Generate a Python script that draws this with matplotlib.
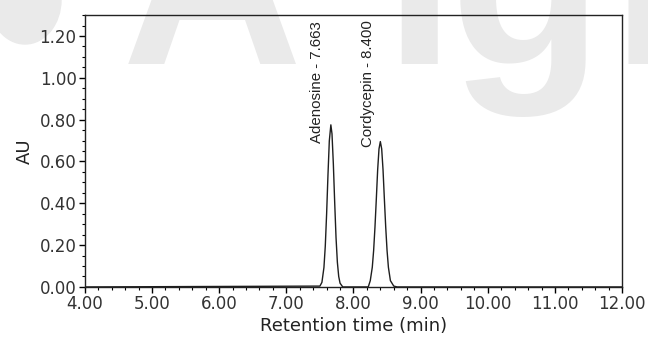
import matplotlib.pyplot as plt
from matplotlib.patches import Ellipse
from matplotlib.ticker import MultipleLocator, FormatStrFormatter

# chromatogram trace (time in min, absorbance in AU)
time = [4.00, 7.50, 7.53, 7.56, 7.58, 7.60, 7.62, 7.64, 7.663, 7.68, 7.70, 7.72,
        7.74, 7.76, 7.78, 7.80, 7.84, 8.22, 8.25, 8.28, 8.30, 8.32, 8.34, 8.36,
        8.38, 8.40, 8.42, 8.44, 8.46, 8.48, 8.50, 8.52, 8.55, 8.60, 8.65, 12.00]
au = [0.0, 0.004, 0.022, 0.093, 0.195, 0.35, 0.535, 0.698, 0.775, 0.732, 0.589, 0.405,
      0.236, 0.118, 0.050, 0.018, 0.0, 0.0, 0.03, 0.094, 0.174, 0.286, 0.42, 0.56,
      0.66, 0.695, 0.66, 0.56, 0.42, 0.286, 0.174, 0.094, 0.03, 0.004, 0.0, 0.0]

peak_names = ['Adenosine - 7.663', 'Cordycepin - 8.400']
peak_label_x = [7.46, 8.22]
peak_label_y = [0.69, 0.67]

xticks = [4, 5, 6, 7, 8, 9, 10, 11, 12]
yticks = [0.0, 0.2, 0.4, 0.6, 0.8, 1.0, 1.2]

fig = plt.figure(figsize=(6.48, 3.42), dpi=100)

# faint watermark behind the plot
wm = '#eaeaea'
fig.patches.append(Ellipse((25 / 648, 1.0), 72 / 648, 88 / 342,
                           transform=fig.transFigure, color=wm, zorder=-2))
for ch, xp in zip(['A', 'I', 'g', 'l'], [122, 384, 450, 611]):
    fig.text(xp / 648, 1 - 64 / 342, ch, fontsize=180, fontweight='bold',
             family='Liberation Sans', color=wm, ha='left', va='baseline', zorder=-1)

ax = fig.add_axes([0.131, 0.161, 0.829, 0.795])
ax.patch.set_alpha(0)

ax.plot(time, au, color='#1e1e1e', lw=1.0)

for name, lx, ly in zip(peak_names, peak_label_x, peak_label_y):
    ax.text(lx, ly, name, rotation=90, ha='center', va='bottom', fontsize=10.8,
            family='Liberation Sans', color='#222222')

ax.set_xlim(4, 12)
ax.set_ylim(0, 1.30)
ax.set_xticks(xticks)
ax.set_yticks(yticks)
ax.xaxis.set_minor_locator(MultipleLocator(0.2))
ax.yaxis.set_minor_locator(MultipleLocator(0.05))
ax.xaxis.set_major_formatter(FormatStrFormatter('%.2f'))
ax.yaxis.set_major_formatter(FormatStrFormatter('%.2f'))
ax.tick_params(which='major', direction='out', length=4, width=1, labelsize=12,
               labelcolor='#333333', pad=2)
ax.tick_params(which='minor', direction='out', length=2, width=0.8)
for s in ax.spines.values():
    s.set_linewidth(1.0)
    s.set_color('#222222')

ax.set_xlabel('Retention time (min)', fontsize=13, color='#222222', labelpad=3)
ax.set_ylabel('AU', fontsize=13, color='#222222', labelpad=4)

fig.savefig('out.png', dpi=100)
